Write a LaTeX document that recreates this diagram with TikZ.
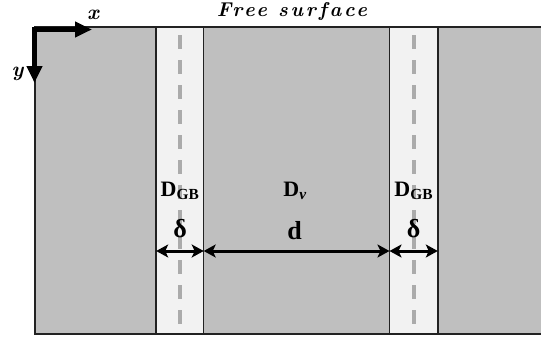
\documentclass[tikz,border=0pt]{standalone}
\usepackage{fontspec}
\usetikzlibrary{arrows.meta}
\newfontfamily\labelfont{Liberation Serif}
\newfontfamily\surfacefont[LetterSpace=14]{lmroman10-bolditalic.otf}
\newfontfamily\axisfont{lmroman10-bolditalic.otf}
\definecolor{bulk}{HTML}{BFBFBF}
\definecolor{gbfill}{HTML}{F2F2F2}
\definecolor{edge}{HTML}{222222}
\definecolor{gbline}{HTML}{ABABAB}
\tikzset{
  grain/.style={fill=bulk, draw=none},
  gbstrip/.style={fill=gbfill, draw=edge, line width=1.5pt},
  centreline/.style={draw=gbline, line width=4.3pt, dash pattern=on 14pt off 11pt},
  axisarrow/.style={line width=5pt, -{Triangle[length=17pt,width=15pt]}},
  widtharrow/.style={line width=3pt,
    {Stealth[length=12pt,width=13pt,inset=3pt]}-{Stealth[length=12pt,width=13pt,inset=3pt]}},
  lbl/.style={font=\labelfont\fontsize{22}{24}\selectfont\bfseries, inner sep=0pt},
  wlbl/.style={font=\labelfont\fontsize{26}{28}\selectfont\bfseries, inner sep=0pt},
  axlbl/.style={font=\axisfont\fontsize{21}{23}\selectfont, inner sep=0pt},
}
\begin{document}
\begin{tikzpicture}[x=1pt,y=-1pt]
\useasboundingbox (0,0) rectangle (541,341);
% bulk material
\fill[grain] (35,27) rectangle (541,334);
% grain boundary strips with dashed centre lines
\draw[gbstrip] (156.2,27) rectangle (203.7,334);
\draw[gbstrip] (389.5,27) rectangle (437.8,334);
\draw[centreline] (180,35) -- (180,334);
\draw[centreline] (413.7,35) -- (413.7,334);
% outline of the bulk (open to the right)
\draw[edge, line width=2pt] (541,27) -- (35,27) -- (35,334) -- (541,334);
% axes
\coordinate (o) at (34.5,29.5);
\coordinate (xe) at (92,29.5);
\coordinate (ye) at (34.5,83);
\draw[axisarrow] ([xshift=-2.5pt]o) -- (xe);
\draw[axisarrow] ([yshift=-2.5pt]o) -- (ye);
\node[axlbl] (xl) at (93,15) {x};
\node[axlbl] (yl) at (17.5,74) {y};
\node[inner sep=0pt, font=\surfacefont\fontsize{20}{22}\selectfont] (fs) at (292,11) {Free surface};
% diffusivity labels
\node[lbl] (dgb1) at (180,191) {D\textsubscript{GB}};
\node[lbl] (dv) at (295,191) {D\textsubscript{\itshape v}};
\node[lbl] (dgb2) at (413.7,191) {D\textsubscript{GB}};
% widths
\node[wlbl] (del1) at (180,229) {δ};
\node[wlbl] (dd) at (294.5,231) {d};
\node[wlbl] (del2) at (413.7,229) {δ};
\coordinate (a1) at (156.2,251);
\coordinate (a2) at (203.7,251);
\coordinate (a3) at (389.5,251);
\coordinate (a4) at (437.8,251);
\draw[widtharrow] (a1) -- (a2);
\draw[widtharrow] (a2) -- (a3);
\draw[widtharrow] (a3) -- (a4);
\end{tikzpicture}
\end{document}
